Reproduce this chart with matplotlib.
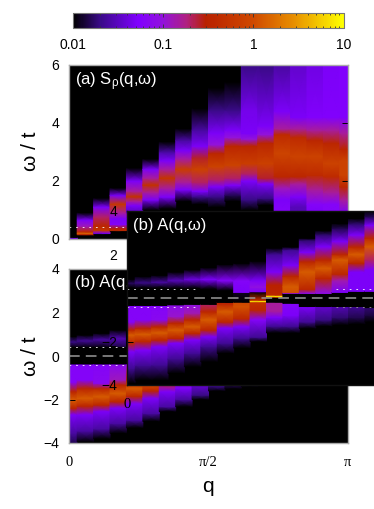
import numpy as np
from matplotlib import pyplot as plt
from matplotlib.colors import LinearSegmentedColormap, LogNorm
from matplotlib.ticker import NullFormatter

plt.rcParams['font.family'] = ['Liberation Sans', 'DejaVu Sans']
plt.rcParams['mathtext.fontset'] = 'custom'
plt.rcParams['mathtext.rm'] = 'Liberation Sans'
plt.rcParams['mathtext.it'] = 'Liberation Sans'
plt.rcParams['mathtext.bf'] = 'Liberation Sans'

W, H = 374, 509
NQ = 18  # q puntos, 0..pi

# panel (a): nudos de w y valores por columna de q
top_w = [
    [0, .03, .06, 6],
    [.12, .16, .2, .25, .45, .65, .9],
    [.17, .2, .3, .45, .75, 1.1, 1.4],
    [.27, .3, .36, .5, .7, .9, 1.2, 1.5, 1.75],
    [.9, 1.15, 1.3, 1.46, 1.65, 2.0, 2.44],
    [1.0, 1.35, 1.6, 1.86, 2.1, 2.4, 2.75],
    [1.05, 1.45, 1.75, 2.1, 2.4, 2.7, 3.0, 3.35],
    [1.3, 1.7, 1.95, 2.4, 2.75, 3.05, 3.4, 3.8],
    [1.2, 1.45, 1.65, 1.95, 2.4, 2.8, 3.2, 3.75, 4.5],
    [1.1, 1.45, 1.8, 2.05, 2.5, 2.95, 3.25, 3.65, 4.45, 5.2],
    [1.3, 1.5, 1.85, 2.1, 2.55, 3.2, 3.5, 3.75, 4.45, 5.4],
    [1.0, 1.35, 2.0, 2.25, 2.6, 3.2, 3.45, 3.65, 4.45, 6],
    [1.17, 1.4, 1.9, 2.1, 2.6, 3.3, 3.6, 3.9, 6],
    [.9, 1.35, 1.75, 2.15, 2.95, 3.6, 3.8, 4.4, 6],
    [.9, 1.1, 1.45, 1.9, 2.15, 2.85, 3.5, 3.8, 4.2, 6],
    [.9, 1.2, 1.7, 2.2, 2.85, 3.4, 3.75, 4.2, 6],
    [.9, 1.2, 1.6, 2.15, 2.6, 3.3, 3.75, 4.2, 6],
    [.9, 1.35, 1.8, 2.2, 2.7, 3.1, 3.65, 4.2, 6],
]
top_v = [
    [.05, .05, .01, .01],
    [.01, .3, 1.5, .4, .12, .05, .01],
    [.01, .05, .6, .35, .2, .05, .01],
    [.01, .4, .3, .06, .05, .15, .6, .05, .01],
    [.03, .05, .15, .5, .15, .05, .01],
    [.01, .05, .15, .5, .15, .05, .01],
    [.01, .05, .15, .55, .15, .05, .025, .01],
    [.01, .05, .15, .7, .15, .05, .025, .01],
    [.01, .02, .05, .2, .8, .25, .05, .025, .01],
    [.01, .02, .05, .2, .8, .35, .1, .05, .02, .01],
    [.01, .015, .05, .2, .8, .35, .1, .05, .02, .01],
    [.01, .02, .05, .2, .7, .35, .1, .05, .045, .02],
    [.01, .02, .05, .25, .75, .35, .1, .05, .02],
    [.06, .05, .12, .35, .85, .4, .15, .05, .025],
    [.03, .03, .05, .15, .35, .8, .4, .15, .05, .035],
    [.05, .06, .15, .4, .8, .35, .15, .055, .042],
    [.06, .06, .15, .4, .8, .35, .15, .055, .05],
    [.05, .15, .35, .8, .8, .35, .15, .055, .055],
]

# panel (b) de abajo, solo lo que se ve
bot_w = [
    [-4, -3.55, -2.7, -2.4, -2.02, -1.64, -1.2, -.37, -.36, .42, .45, .65, .9, 4],
    [-3.95, -3.45, -2.7, -2.3, -1.95, -1.5, -1.1, -.37, -.36, .42, .45, .7, .97, 4],
    [-3.8, -3.35, -2.55, -2.25, -1.87, -1.5, -1.25, -.37, -.36, .42, .45, .75, 1.05, 4],
    [-3.55, -3.1, -2.4, -2.1, -1.72, -1.33, -1.1, -.37, -.36, .42, .45, .8, 1.2, 4],
    [-3.3, -2.95, -2.2, -1.85, -1.5, -1.1, -.37, -.36, 4],
    [-3.0, -2.64, -1.95, -1.6, -1.35, -.9, -.37, -.36, 4],
    [-2.55, -2.33, -1.64, -1.35, -1.1, -.37, -.36, 4],
    [-2.33, -2.0, -1.5, -1.1, -.37, -.36, 4],
    [-2.0, -1.8, -1.38, -.37, -.36, 4],
    [-1.6, -1.4, -.37, -.36, 4],
    [-1.5, -1.35, -.37, -.36, 4],
    [-1.4, -1.3, 4],
    [-1.3, -1.25, 4],
    [-4, 4],
    [-4, 4],
    [-4, 4],
    [-4, 4],
    [-4, 4],
]
bot_v = [
    [.015, .025, .05, .35, 1.3, .35, .06, .06, .01, .01, .012, .02, .01, .01],
    [.01, .025, .05, .35, 1.3, .35, .06, .06, .01, .01, .012, .022, .01, .01],
    [.01, .025, .05, .35, 1.3, .35, .07, .06, .01, .01, .012, .025, .01, .01],
    [.01, .025, .05, .35, 1.3, .35, .12, .07, .01, .01, .015, .028, .01, .01],
    [.01, .025, .05, .35, 1.3, .35, .1, .01, .01],
    [.01, .025, .05, .35, 1.0, .35, .1, .01, .01],
    [.01, .025, .05, .2, .35, .1, .01, .01],
    [.01, .025, .05, .1, .1, .01, .01],
    [.01, .02, .035, .05, .01, .01],
    [.01, .02, .03, .01, .01],
    [.01, .015, .02, .01, .01],
    [.01, .014, .01],
    [.01, .012, .01],
    [.01, .01],
    [.01, .01],
    [.01, .01],
    [.01, .01],
    [.01, .01],
]

# panel (b) copia encima
ins_w = [
    [-3.92, -3.23, -2.47, -2.08, -1.7, -1.47, -1.1, -.35, -.34, .47, .68, .87, 4],
    [-3.77, -3.1, -2.4, -2.0, -1.67, -1.4, -1.0, -.35, -.34, .47, .7, 1.0, 4],
    [-3.77, -3.08, -2.24, -1.93, -1.6, -1.32, -1.0, -.35, -.34, .47, .72, 1.05, 4],
    [-3.46, -2.8, -2.08, -1.85, -1.47, -1.16, -.85, -.32, -.31, .45, .8, 1.2, 4],
    [-3.16, -2.55, -1.93, -1.63, -1.32, -1.0, -.7, -.3, -.29, .45, .85, 1.3, 4],
    [-2.93, -2.24, -1.78, -1.47, -1.0, -.63, -.3, -.29, .42, .85, 1.4, 4],
    [-2.54, -2.08, -1.39, -1.1, -.63, -.3, -.21, -.2, .35, .8, 1.55, 4],
    [-2.3, -1.85, -1.32, -.95, -.4, -.2, -.19, .25, .26, .8, 1.6, 4],
    [-2.0, -1.8, -1.0, -.55, -.2, -.14, -.1, .28, .29, .5, .8, 1.7, 4],
    [-1.6, -1.3, -.9, -.6, -.2, -.19, .0, .05, .09, .14, .6, 1.2, 2.0, 2.3, 4],
    [-1.6, -1.3, -.8, -.25, -.24, .2, .21, .26, .52, 1.0, 1.5, 2.2, 2.35, 4],
    [-1.4, -1.1, -.4, -.39, .2, .21, .4, 1.2, 1.67, 2.1, 2.65, 2.75, 4],
    [-1.3, -1.0, -.4, -.39, .2, .21, .9, 1.36, 1.75, 2.36, 2.9, 3.1, 4],
    [-1.24, -.9, -.4, -.39, .25, .26, .8, 1.1, 1.75, 2.0, 2.6, 3.2, 3.43, 4],
    [-1.2, -.9, -.4, -.39, .3, .31, 1.2, 1.6, 2.0, 2.35, 2.9, 3.4, 3.66, 4],
    [-1.1, -.8, -.45, -.44, .3, .31, 1.3, 1.75, 2.36, 2.75, 3.35, 3.74, 4],
]
ins_v = [
    [.01, .022, .05, .35, 1.3, .35, .06, .06, .01, .01, .016, .01, .01],
    [.01, .022, .05, .35, 1.3, .35, .06, .06, .01, .01, .02, .01, .01],
    [.01, .022, .05, .35, 1.3, .35, .07, .06, .01, .01, .024, .01, .01],
    [.01, .022, .05, .35, 1.3, .35, .11, .08, .01, .01, .03, .01, .01],
    [.01, .022, .05, .35, 1.3, .35, .13, .09, .01, .01, .04, .01, .01],
    [.01, .022, .05, .35, 1.3, .35, .2, .01, .01, .05, .01, .01],
    [.01, .022, .05, .35, 1.3, .4, .3, .01, .01, .06, .01, .01],
    [.01, .022, .05, .35, 1.1, .9, .01, .012, .05, .06, .01, .01],
    [.01, .022, .06, .35, .5, 9, .4, .01, .05, .09, .05, .01, .01],
    [.01, .022, .05, .15, .15, .01, .01, 1.2, 9, .35, .3, .05, .022, .01, .01],
    [.01, .022, .05, .06, .01, .01, .05, 1.1, 1.3, .35, .05, .022, .01, .01],
    [.01, .022, .05, .01, .01, .08, .35, 1.3, .35, .05, .018, .01, .01],
    [.01, .02, .035, .01, .01, .08, .35, 1.3, .35, .05, .018, .01, .01],
    [.01, .018, .028, .01, .01, .05, .13, .35, 1.3, .35, .05, .015, .01, .01],
    [.01, .015, .022, .01, .01, .05, .05, .35, 1.3, .35, .05, .018, .01, .01],
    [.01, .014, .018, .01, .01, .05, .05, .2, 1.3, .35, .05, .015, .01],
]

cmap_pos = [0, .10, .24, .33, .42, .49, .67, .82, 1]
cmap_col = ['#000000', '#3a0a88', '#8000ff', '#9212dc', '#b02080', '#b82000', '#d04a00', '#e89000', '#ffff00']
cb_ticks = [.01, .1, 1, 10]
cb_labels = ['0.01', '0.1', '1', '10']

cm = LinearSegmentedColormap.from_list('sq', list(zip(cmap_pos, cmap_col)))
norm = LogNorm(.01, 10)
q = np.arange(NQ) * np.pi / (NQ - 1)
edges = np.concatenate([[0], (q[:-1] + q[1:]) / 2, [np.pi]])


def ejes(x0, y0, x1, y1):
    return fig.add_axes([x0 / W, 1 - y1 / H, (x1 - x0) / W, (y1 - y0) / H])


def columnas(ax, ws, vs):
    ax.set_facecolor('black')
    m = None
    for k in range(len(ws)):
        w = np.array(ws[k], float)
        v = np.array(vs[k], float)
        xx = np.column_stack([np.full(w.size, edges[k]), np.full(w.size, edges[k + 1])])
        yy = np.column_stack([w, w])
        cc = np.column_stack([v, v])
        m = ax.pcolormesh(xx, yy, cc, shading='gouraud', cmap=cm, norm=norm)
    return m


def estilo(ax, color, ymin, ymax, yticks):
    ax.set_xlim(0, np.pi)
    ax.set_ylim(ymin, ymax)
    ax.set_yticks(yticks)
    ax.tick_params(direction='in', length=4, width=.7, right=True, top=True,
                   labelsize=10, pad=7, labelcolor='black', color='black')
    for s in ax.spines.values():
        s.set_color(color)
        s.set_linewidth(1)


def gap(ax, x0, x1, col2='white'):
    ax.plot([x0, x1], [.4, .4], color='white', lw=.7, ls=(0, (1.8, 5)), alpha=.85)
    ax.plot([x0, x1], [-.4, -.4], color=col2, lw=.7, ls=(0, (1.8, 5)), alpha=.85)


fig = plt.figure(figsize=(W / 100, H / 100), dpi=100)

# panel a
ax_a = ejes(69, 65, 348, 239)
mesh = columnas(ax_a, top_w, top_v)
estilo(ax_a, '#aaaaaa', 0, 6, [0, 2, 4, 6])
ax_a.set_xticks([])
ax_a.plot([0, np.pi], [.4, .4], color='white', lw=.7, ls=(0, (1.8, 5)), alpha=.85)
fig.text(75 / W, 1 - 82 / H, '(a) S$_{\\rho}$(q,$\\omega$)', color='white', fontsize=12, va='center')
fig.text(30 / W, 1 - 151 / H, '\u03c9 / t', rotation=90, fontsize=15, ha='center', va='center')

# panel b
ax_b = ejes(69, 269, 348, 443)
columnas(ax_b, bot_w, bot_v)
estilo(ax_b, '#aaaaaa', -4, 4, [-4, -2, 0, 2, 4])
ax_b.set_xticks([0, np.pi / 2, np.pi])
ax_b.set_xticklabels(['0', '\u03c0/2', '\u03c0'], family=['Liberation Serif'], fontsize=10.5)
ax_b.tick_params(axis='x', pad=9)
ax_b.plot([0, np.pi], [0, 0], color='#999999', lw=1.1, ls=(0, (7, 4)))
gap(ax_b, 0, np.pi)
fig.text(75 / W, 1 - 283 / H, '(b) A(q,\u03c9)', color='white', fontsize=12, va='center')
fig.text(30 / W, 1 - 356 / H, '\u03c9 / t', rotation=90, fontsize=15, ha='center', va='center')
fig.text(208 / W, 1 - 486 / H, 'q', fontsize=15, ha='center', va='center')

# copia encima, sale por la derecha
ax_c = ejes(127, 211, 406, 385)
ax_c.set_zorder(5)
columnas(ax_c, ins_w, ins_v)
estilo(ax_c, '#111111', -4, 4, [-4, -2, 0, 2, 4])
ax_c.set_xticks([0, np.pi / 2])
ax_c.set_xticklabels(['0', '\u03c0/2'], family=['Liberation Serif'], fontsize=10.5)
ax_c.tick_params(axis='x', pad=9)
ax_c.plot([0, np.pi], [0, 0], color='#999999', lw=1.1, ls=(0, (7, 4)))
gap(ax_c, 0, .8)
gap(ax_c, 2.35, np.pi, '#999999')
ax_c.text(.021, .915, '(b) A(q,\u03c9)', color='white', fontsize=12, va='center',
          transform=ax_c.transAxes)

# barra de color
cax = ejes(73, 13, 343.5, 28)
cb = fig.colorbar(mesh, cax=cax, orientation='horizontal', ticks=cb_ticks)
cb.ax.set_xticklabels(cb_labels)
cb.ax.xaxis.set_minor_formatter(NullFormatter())
cb.ax.tick_params(which='both', direction='in', top=True, bottom=True, color='#333333', width=.6)
cb.ax.tick_params(which='major', length=3, labelsize=10, pad=7)
cb.ax.tick_params(which='minor', length=1.5)
cb.outline.set_edgecolor('#777777')

fig.savefig('out.png', dpi=100)
